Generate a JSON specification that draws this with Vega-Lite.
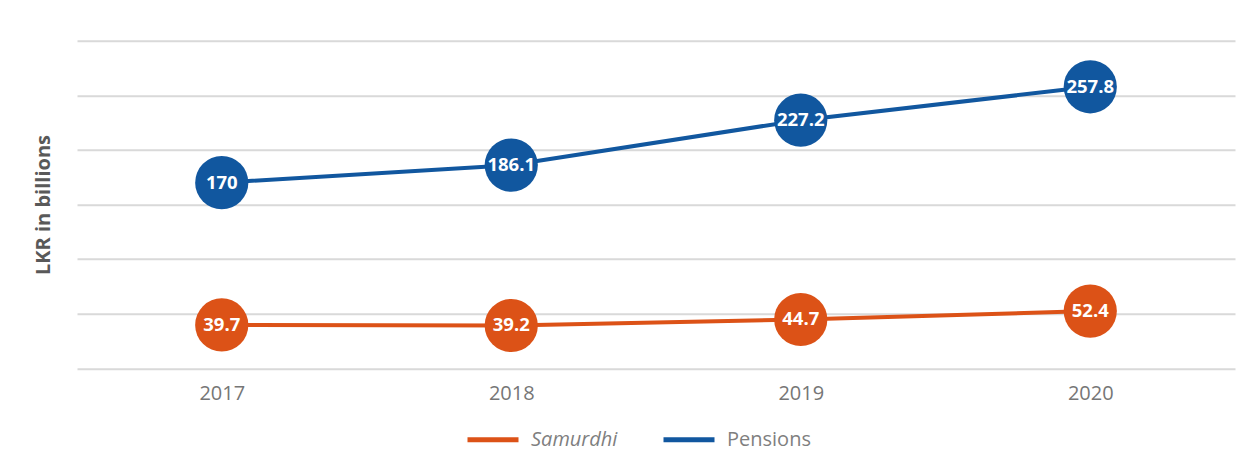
{
  "$schema": "https://vega.github.io/schema/vega-lite/v6.json",
  "width": 1158,
  "height": 327.6,
  "autosize": {"type": "none"},
  "padding": {"left": 77, "top": 40.7, "right": 13, "bottom": 103.7},
  "background": "#ffffff",
  "config": {
    "view": {"stroke": null},
    "font": "Open Sans"
  },
  "data": {
    "values": [
      {"year": "2017", "series": "Samurdhi", "value": 39.7},
      {"year": "2018", "series": "Samurdhi", "value": 39.2},
      {"year": "2019", "series": "Samurdhi", "value": 44.7},
      {"year": "2020", "series": "Samurdhi", "value": 52.4},
      {"year": "2017", "series": "Pensions", "value": 170},
      {"year": "2018", "series": "Pensions", "value": 186.1},
      {"year": "2019", "series": "Pensions", "value": 227.2},
      {"year": "2020", "series": "Pensions", "value": 257.8}
    ]
  },
  "encoding": {
    "x": {
      "field": "year",
      "type": "ordinal",
      "scale": {"type": "point", "padding": 0.5},
      "axis": {
        "title": null,
        "domain": false,
        "ticks": false,
        "grid": false,
        "labelAngle": 0,
        "labelFont": "Open Sans",
        "labelFontSize": 20,
        "labelColor": "#767676",
        "labelPadding": 15
      }
    },
    "y": {
      "field": "value",
      "type": "quantitative",
      "scale": {"domain": [0, 300], "nice": false, "zero": true},
      "axis": {
        "title": "LKR in billions",
        "titleFont": "Open Sans",
        "titleFontSize": 20,
        "titleFontWeight": "bold",
        "titleColor": "#595959",
        "titlePadding": 24,
        "labels": false,
        "ticks": false,
        "domain": false,
        "grid": true,
        "gridColor": "#d9d9d9",
        "gridWidth": 2,
        "values": [0, 50, 100, 150, 200, 250, 300]
      }
    }
  },
  "layer": [
    {
      "mark": {"type": "line", "strokeWidth": 4},
      "encoding": {
        "color": {
          "field": "series",
          "type": "nominal",
          "sort": ["Samurdhi", "Pensions"],
          "scale": {"domain": ["Samurdhi", "Pensions"], "range": ["#DC5217", "#11579F"]},
          "legend": {
            "title": null,
            "orient": "none",
            "direction": "horizontal",
            "legendX": 388,
            "legendY": 371,
            "padding": 0,
            "symbolType": "stroke",
            "symbolSize": 2601,
            "symbolStrokeWidth": 5,
            "labelFont": "Open Sans",
            "labelFontSize": 20,
            "labelColor": "#7f7f7f",
            "labelOffset": 10,
            "columnPadding": 35,
            "encode": {
              "labels": {
                "update": {
                  "fontStyle": {"signal": "datum.label === 'Samurdhi' ? 'italic' : 'normal'"}
                }
              }
            }
          }
        }
      }
    },
    {
      "mark": {"type": "circle", "size": 2830, "opacity": 1},
      "encoding": {
        "fill": {
          "field": "series",
          "type": "nominal",
          "scale": {"domain": ["Samurdhi", "Pensions"], "range": ["#DC5217", "#11579F"]},
          "legend": null
        }
      }
    },
    {
      "mark": {
        "type": "text",
        "color": "#ffffff",
        "font": "Open Sans",
        "fontSize": 18.5,
        "fontWeight": "bold",
        "baseline": "middle",
        "align": "center"
      },
      "encoding": {
        "text": {"field": "value", "type": "quantitative"}
      }
    }
  ]
}
